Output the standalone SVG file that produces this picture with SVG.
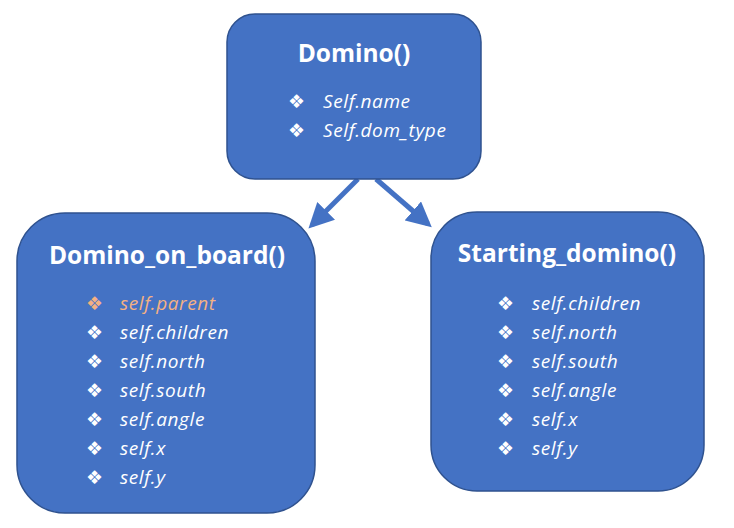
<svg xmlns="http://www.w3.org/2000/svg" width="734" height="528" viewBox="0 0 734 528">
<defs>
<style>
.box{fill:#4472C4;stroke:#2F528F;stroke-width:1.5}
.title{font-family:"Open Sans","Liberation Sans",sans-serif;font-weight:bold;font-size:24.5px;fill:#fff;text-anchor:middle}
.item{font-family:"Open Sans","Liberation Sans",sans-serif;font-style:italic;font-size:19px;letter-spacing:0.6px;fill:#fff}
.bul{font-family:"DejaVu Sans",sans-serif;font-size:19px;fill:#fff}
.orange{fill:#F4B183}
.conn{stroke:#4472C4;stroke-width:5;fill:none}
</style>
<marker id="ah" viewBox="0 0 10 10" refX="8" refY="5" markerWidth="5" markerHeight="5" orient="auto" markerUnits="strokeWidth">
<path d="M0,0 L10,5 L0,10 z" fill="#4472C4"/>
</marker>
</defs>
<rect width="734" height="528" fill="#fff"/>
<g id="connectors">
<line class="conn" x1="358" y1="179" x2="312" y2="225" marker-end="url(#ah)"/>
<line class="conn" x1="376" y1="179" x2="428" y2="224" marker-end="url(#ah)"/>
</g>
<g id="domino">
<rect class="box" x="227" y="14" width="254" height="165" rx="28"/>
<text class="title" x="354" y="62">Domino()</text>
<text class="bul" x="288" y="108">❖</text>
<text class="item" x="323" y="108">Self.name</text>
<text class="bul" x="288" y="137">❖</text>
<text class="item" x="323" y="137">Self.dom_type</text>
</g>
<g id="domino_on_board">
<rect class="box" x="17" y="213" width="298" height="300" rx="48"/>
<text class="title" x="167" y="264">Domino_on_board()</text>
<text class="bul orange" x="86" y="310">❖</text>
<text class="item orange" x="120" y="310">self.parent</text>
<text class="bul" x="86" y="339">❖</text>
<text class="item" x="120" y="339">self.children</text>
<text class="bul" x="86" y="368">❖</text>
<text class="item" x="120" y="368">self.north</text>
<text class="bul" x="86" y="397">❖</text>
<text class="item" x="120" y="397">self.south</text>
<text class="bul" x="86" y="426">❖</text>
<text class="item" x="120" y="426">self.angle</text>
<text class="bul" x="86" y="455">❖</text>
<text class="item" x="120" y="455">self.x</text>
<text class="bul" x="86" y="484">❖</text>
<text class="item" x="120" y="484">self.y</text>
</g>
<g id="starting_domino">
<rect class="box" x="431" y="212" width="273" height="279" rx="46"/>
<text class="title" x="567" y="262">Starting_domino()</text>
<text class="bul" x="497" y="310">❖</text>
<text class="item" x="532" y="310">self.children</text>
<text class="bul" x="497" y="339">❖</text>
<text class="item" x="532" y="339">self.north</text>
<text class="bul" x="497" y="368">❖</text>
<text class="item" x="532" y="368">self.south</text>
<text class="bul" x="497" y="397">❖</text>
<text class="item" x="532" y="397">self.angle</text>
<text class="bul" x="497" y="426">❖</text>
<text class="item" x="532" y="426">self.x</text>
<text class="bul" x="497" y="455">❖</text>
<text class="item" x="532" y="455">self.y</text>
</g>
</svg>
